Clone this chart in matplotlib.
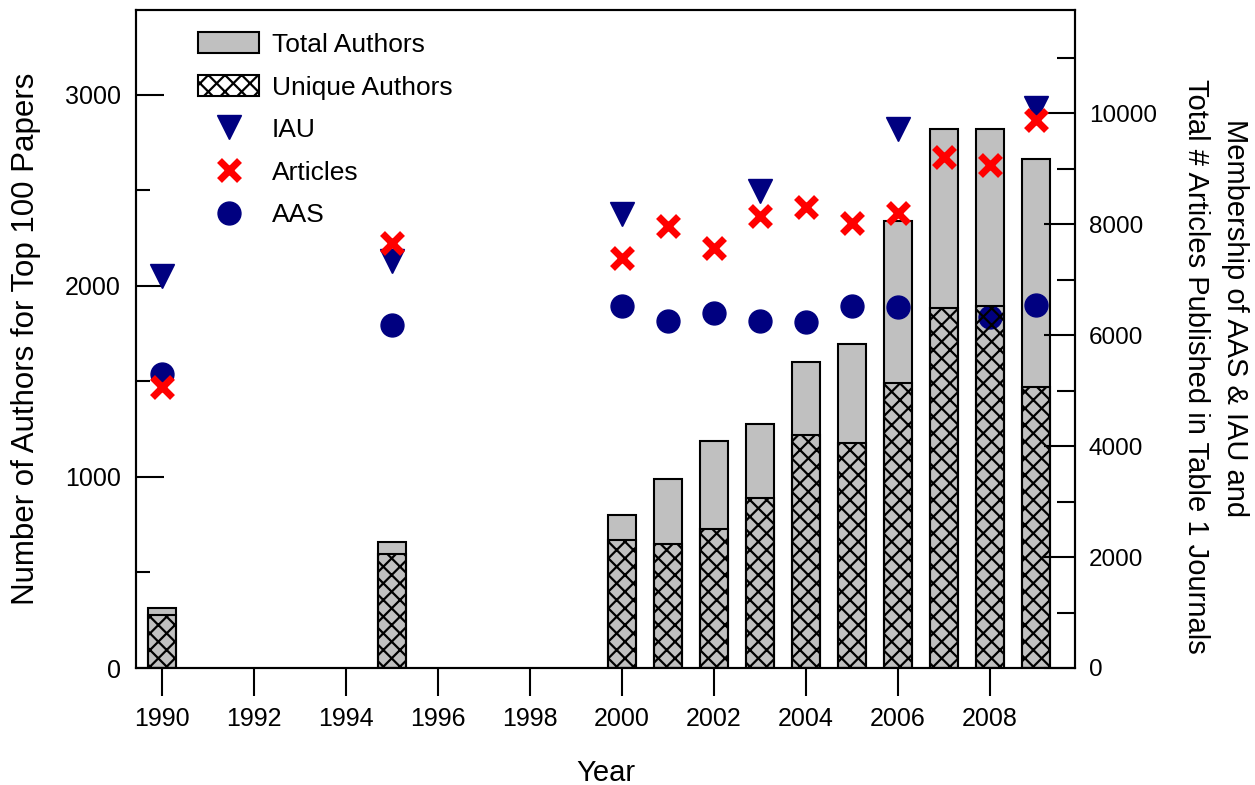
import matplotlib.pyplot as plt
from matplotlib.patches import Patch
from matplotlib.lines import Line2D

plt.rcParams['font.family'] = ['Liberation Sans', 'DejaVu Sans']
plt.rcParams['hatch.linewidth'] = 1.6

# --- data ---
years = [1990, 1995, 2000, 2001, 2002, 2003, 2004, 2005, 2006, 2007, 2008, 2009]
total_authors = [312, 661, 800, 990, 1190, 1280, 1600, 1695, 2340, 2820, 2820, 2665]
unique_authors = [277, 597, 670, 650, 730, 890, 1220, 1180, 1490, 1885, 1893, 1470]

iau_years = [1990, 1995, 2000, 2003, 2006, 2009]
iau_members = [7070, 7330, 8185, 8600, 9705, 10090]

articles = [5070, 7660, 7380, 7960, 7560, 8150, 8300, 8010, 8190, 9210, 9060, 9875]

aas_years = [1990, 1995, 2000, 2001, 2002, 2003, 2004, 2005, 2006, 2008, 2009]
aas_members = [5300, 6180, 6530, 6260, 6400, 6245, 6235, 6530, 6510, 6320, 6540]

x_ticks = list(range(1990, 2009, 2))

gray = '#c0c0c0'
navy = '#000080'

fig = plt.figure(figsize=(12.55, 7.85), dpi=100)
pos = [136 / 1255, 117 / 785, 939 / 1255, 658 / 785]
ax = fig.add_axes(pos)

# total authors (gray bars) on the left axis
ax.bar(years, total_authors, width=0.6, color=gray, edgecolor='black', linewidth=1.5)
ax.set_xlim(1989.43, 2009.85)
ax.set_ylim(0, 3445)
ax.set_xticks(x_ticks)
ax.set_yticks([0, 1000, 2000, 3000])
ax.set_yticks([500, 1500, 2500], minor=True)
ax.tick_params(axis='x', direction='out', length=20, width=1.5, labelsize=18, pad=8)
ax.tick_params(axis='y', which='major', direction='in', length=20, width=1.5, labelsize=18, pad=11)
ax.tick_params(axis='y', which='minor', direction='in', length=10, width=1.5)
for s in ax.spines.values():
    s.set_linewidth(1.5)
ax.set_xlabel('Year', fontsize=21)
ax.xaxis.set_label_coords(0.5, -0.138)
ax.set_ylabel('Number of Authors for Top 100 Papers', fontsize=22.5)
ax.yaxis.set_label_coords(-0.101, 0.5)

# memberships / articles on the right axis
ax2 = ax.twinx()
ax2.set_ylim(0, 11856)
ax2.plot(iau_years, iau_members, 'v', color=navy, markersize=17, linestyle='none')
ax2.plot(aas_years, aas_members, 'o', color=navy, markersize=16.5, linestyle='none')
ax2.plot(years, articles, 'x', color='red', markersize=14, markeredgewidth=5, linestyle='none')
ax2.set_yticks(range(0, 10001, 2000))
ax2.set_yticks(range(1000, 11001, 2000), minor=True)
ax2.tick_params(axis='y', which='major', direction='in', length=22, width=1.5, labelsize=17.5, pad=10)
ax2.tick_params(axis='y', which='minor', direction='in', length=13, width=1.5)
for s in ax2.spines.values():
    s.set_linewidth(1.5)

# unique authors (hatched) drawn on top of the markers
ax3 = fig.add_axes(pos, sharex=ax, sharey=ax)
ax3.axis('off')
ax3.bar(years, unique_authors, width=0.6, facecolor='none', edgecolor='black',
        linewidth=1.5, hatch='xx')

fig.text(1235 / 1255, 1 - 318 / 785, 'Membership of AAS & IAU and', rotation=270,
         ha='center', va='center', fontsize=21)
fig.text(1196 / 1255, 1 - 366 / 785, 'Total # Articles Published in Table 1 Journals',
         rotation=270, ha='center', va='center', fontsize=21)

handles = [
    Patch(facecolor=gray, edgecolor='black', linewidth=1.5),
    Patch(facecolor='white', edgecolor='black', linewidth=1.5, hatch='xx'),
    Line2D([], [], marker='v', color=navy, markersize=17, linestyle='none'),
    Line2D([], [], marker='x', color='red', markersize=14, markeredgewidth=5, linestyle='none'),
    Line2D([], [], marker='o', color=navy, markersize=16.5, linestyle='none'),
]
labels = ['Total Authors', 'Unique Authors', 'IAU', 'Articles', 'AAS']
ax3.legend(handles, labels, loc='upper left', bbox_to_anchor=(0.055, 0.982), frameon=False,
           fontsize=19, handlelength=2.3, handleheight=0.85, handletextpad=0.5,
           labelspacing=0.68, borderaxespad=0)

fig.savefig('out.png', dpi=100)
